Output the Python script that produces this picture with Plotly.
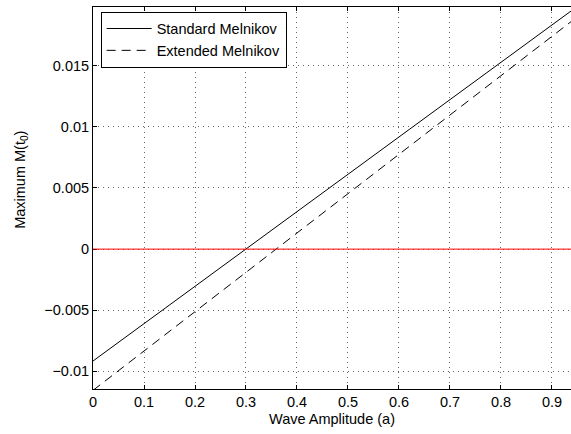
import plotly.graph_objects as go

# Data
amplitude = [0.0, 0.1, 0.2, 0.3, 0.4, 0.5, 0.6, 0.7, 0.8, 0.9, 0.9373]
standard_melnikov = [-0.00915, -0.00610, -0.00304, 0.00001, 0.00307, 0.00612,
                     0.00917, 0.01223, 0.01528, 0.01834, 0.01947]
extended_melnikov = [-0.01155, -0.00833, -0.00512, -0.00190, 0.00132, 0.00454,
                     0.00775, 0.01097, 0.01419, 0.01740, 0.01860]
reference_level = 0.0

x_ticks = [0, 0.1, 0.2, 0.3, 0.4, 0.5, 0.6, 0.7, 0.8, 0.9]
x_ticklabels = ["0", "0.1", "0.2", "0.3", "0.4", "0.5", "0.6", "0.7", "0.8", "0.9"]
y_ticks = [-0.01, -0.005, 0, 0.005, 0.01, 0.015]
y_ticklabels = ["\u22120.01", "\u22120.005", "0", "0.005", "0.01", "0.015"]

FONT = "Liberation Sans, Arial, Helvetica, sans-serif"
FS = 14.5

fig = go.Figure()
fig.add_trace(go.Scatter(x=amplitude, y=standard_melnikov, mode="lines",
                         name="Standard Melnikov",
                         line=dict(color="black", width=1)))
fig.add_trace(go.Scatter(x=amplitude, y=extended_melnikov, mode="lines",
                         name="Extended Melnikov",
                         line=dict(color="black", width=1, dash="9px,6px")))
fig.add_hline(y=reference_level, line=dict(color="red", width=1))

fig.update_layout(
    width=571, height=434,
    margin=dict(l=93, r=0, t=7, b=45),
    paper_bgcolor="white", plot_bgcolor="white",
    font=dict(family=FONT, size=FS, color="black"),
    legend=dict(x=0.016, y=0.988, xanchor="left", yanchor="top",
                bgcolor="white", bordercolor="black", borderwidth=1,
                font=dict(family=FONT, size=FS), itemwidth=45,
                tracegroupgap=0),
    annotations=[dict(text="Maximum M(t<sub>0</sub>)", textangle=-90,
                      xref="paper", yref="paper", x=-0.151, y=0.547,
                      xanchor="center", yanchor="middle", showarrow=False,
                      font=dict(family=FONT, size=FS, color="black"))],
)
fig.update_xaxes(
    range=[0, 0.9373], tickvals=x_ticks, ticktext=x_ticklabels,
    tickfont=dict(family=FONT, size=FS),
    ticks="inside", ticklen=4, tickcolor="black",
    showline=True, linecolor="black", linewidth=1, mirror="ticks",
    showgrid=True, gridcolor="#666", gridwidth=1, griddash="1px,4px",
    zeroline=False,
    title=dict(text="Wave Amplitude (a)", standoff=4,
               font=dict(family=FONT, size=FS)),
)
fig.update_yaxes(
    range=[-0.01144, 0.0198], tickvals=y_ticks, ticktext=y_ticklabels,
    tickfont=dict(family=FONT, size=FS),
    ticks="inside", ticklen=4, tickcolor="black",
    showline=True, linecolor="black", linewidth=1, mirror=False,
    showgrid=True, gridcolor="#666", gridwidth=1, griddash="1px,4px",
    zeroline=False,
)

fig.write_html("out.html")
